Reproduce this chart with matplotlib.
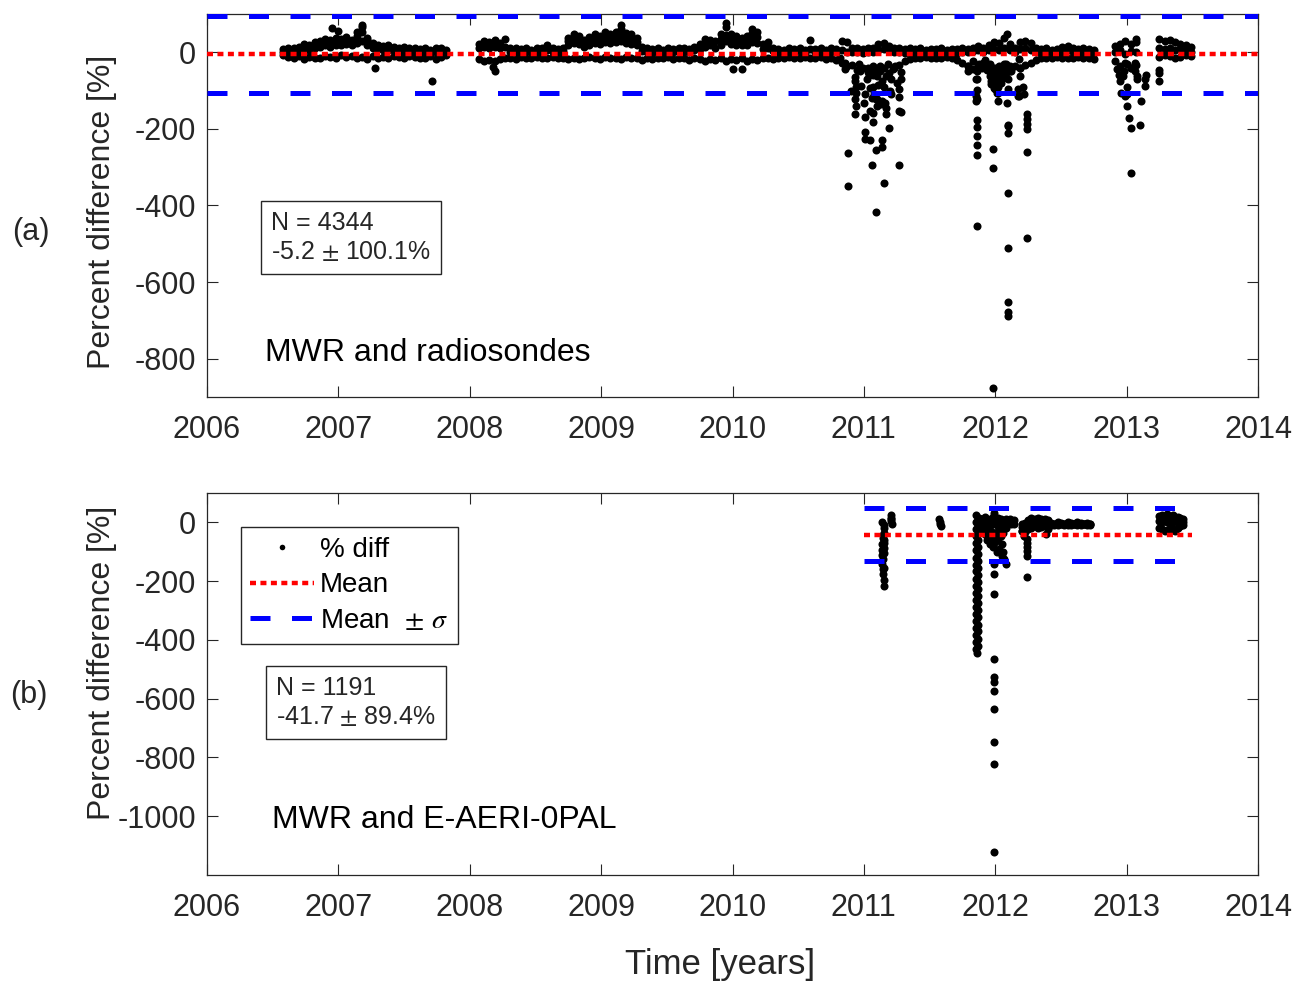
import numpy as np
import matplotlib
matplotlib.use("Agg")
import matplotlib.pyplot as plt
from matplotlib.lines import Line2D

plt.rcParams["font.family"] = ["Liberation Sans", "DejaVu Sans"]
plt.rcParams["mathtext.fontset"] = "stix"
plt.rcParams["axes.unicode_minus"] = False

TEXT = "#262626"

# ---------------------------------------------------------------- panel (a)
# MWR vs radiosondes: summary statistics
A_N = 4344
A_MEAN = -5.2
A_STD = 100.1

# dense band near zero, sampled every STEP years (upper / middle / lower rows)
STEP = 0.04
A_SEG1_T0 = 2006.58
A_SEG1_HI = [8, 12, 10, 14, 22, 18, 27, 30, 34, 32, 37, 34, 40, 32, 52, 72,
             37, 24, 20, 17, 19, 14, 12, 14, 10, 12, 8, 10, 7, 12, 10, 6]
A_SEG1_MID = [0, 3, -2, 5, 8, 6, 12, 15, 18, 15, 20, 18, 22, 18, 25, 30,
              20, 12, 8, 5, 6, 3, 2, 4, 0, 2, -2, 3, 0, 2, 1, -3]
A_SEG1_LO = [-7, -12, -14, -10, -17, -12, -14, -16, -10, -12, -14, -7, -12, -10, -14, -12,
             -17, -10, -14, -12, -16, -10, -12, -14, -10, -12, -16, -14, -10, -18, -12, -7]

A_SEG2_T0 = 2008.07
A_SEG2_HI = [22, 30, 27, 32, 24, 34, 12, 10, 8, 10, 7, 10, 12, 18, 10, 8, 12,
             37, 47, 42, 32, 40, 47, 42, 52, 47, 54, 72, 50, 47, 37,
             14, 10, 8, 10, 7, 12, 8, 10, 12, 9, 14, 22, 34, 32, 30, 47, 77,
             47, 42, 37, 42, 60, 54, 22, 27, 12, 8, 7, 10, 8, 10, 7, 32,
             8, 10, 7, 10, 8, 30, 27, 12, 10, 8, 12, 10, 22, 24, 17, 12, 10, 8, 10,
             8, 10, 7, 9, 8, 10, 7, 9, 8, 10, 8, 12, 16, 10,
             20, 27, 24, 37, 22, 12, 27, 30, 24,
             10, 8, 10, 7, 9, 14, 17, 10, 8, 10, 8, 7]
A_SEG2_MID = [10, 15, 12, 15, 10, 15, 2, 0, -2, 3, 0, 2, 4, 5, 0, -2, 3,
              20, 25, 22, 15, 20, 25, 22, 28, 25, 28, 30, 25, 22, 18,
              4, 0, -2, 2, -3, 3, 0, 2, 4, 0, 5, 8, 15, 18, 12, 20, 30,
              22, 20, 18, 20, 28, 25, 8, 10, 3, 0, -2, 2, 0, 3, -2, 8,
              0, 2, -2, 3, 0, 5, 2, 0, 0, -3, 2, 0, 5, 8, 3, 0, 2, -2, 0,
              -2, 0, -3, 2, 0, -2, 0, 0, -2, 2, 0, 3, 5, 0,
              5, 8, 6, 10, 5, 2, 8, 10, 6,
              0, -2, 2, -3, 0, 3, 5, 0, -2, 2, 0, -3]
A_SEG2_LO = [-17, -22, -20, -24, -18, -16, -14, -17, -12, -16, -14, -12, -16, -14, -12, -16, -14,
             -17, -14, -18, -16, -12, -14, -18, -12, -16, -14, -17, -12, -16, -14,
             -20, -16, -18, -14, -16, -12, -18, -14, -16, -20, -14, -17, -22, -18, -20, -16, -22,
             -18, -20, -16, -22, -18, -20, -16, -14, -18, -14, -16, -12, -14, -16, -12, -14,
             -16, -12, -18, -14, -20, -27, -37, -32, -47, -42, -52, -37, -50, -42, -54, -40, -32, -22, -18,
             -14, -16, -12, -14, -16, -14, -12, -16, -20, -27, -37, -22, -32, -27,
             -42, -47, -52, -44, -50, -37, -42, -32, -27,
             -20, -16, -14, -16, -12, -14, -16, -14, -12, -16, -14, -17]

A_SEG3_T0 = 2012.91
A_SEG3_HI = [17, 22, 29, 22, 27]
A_SEG3_MID = [0, 5, -5, 3, 0]
A_SEG3_LO = [-22, -37, -27, -42, -32]

A_SEG4_T0 = 2013.25
A_SEG4_HI = [34, 30, 32, 27, 22, 20, 14]
A_SEG4_MID = [10, 8, 12, 5, 8, 3, 2]
A_SEG4_LO = [-12, -7, -10, -14, -12, -7, -10]

# individual points (humps above the band and the negative outliers)
A_PTS_T = [2006.82, 2006.86, 2006.90, 2006.94, 2006.98, 2007.02, 2007.06, 2007.10,
           2007.14, 2007.18, 2007.18, 2007.22, 2006.95, 2007.00, 2007.28, 2007.71,
           2008.11, 2008.15, 2008.19, 2008.18, 2008.19,
           2008.75, 2008.79, 2008.83, 2008.87, 2008.91, 2008.95, 2008.99, 2009.03, 2009.07,
           2009.11, 2009.15, 2009.15, 2009.19, 2009.23, 2009.27,
           2009.79, 2009.83, 2009.91, 2009.95, 2009.95, 2009.99, 2010.03, 2010.07, 2010.11,
           2010.15, 2010.15, 2010.19, 2010.00, 2010.07,
           # 2011 event
           2010.82, 2010.86, 2010.86, 2010.88, 2010.88, 2010.90, 2010.93, 2010.93, 2010.94, 2010.94,
           2010.93, 2010.94, 2010.93, 2010.97, 2010.98, 2011.00, 2011.01, 2011.01, 2011.01, 2011.01,
           2011.02, 2011.05, 2011.05, 2011.06, 2011.07, 2011.07, 2011.07, 2011.05, 2011.07, 2011.07,
           2011.08, 2011.09, 2011.09, 2011.09, 2011.10, 2011.10, 2011.10, 2011.12, 2011.13, 2011.14,
           2011.14, 2011.14, 2011.14, 2011.15, 2011.16, 2011.17, 2011.17, 2011.17, 2011.19, 2011.21,
           2011.21, 2011.22, 2011.25, 2011.27, 2011.27, 2011.27, 2011.27, 2011.28, 2011.28, 2011.28,
           2011.03, 2011.12, 2011.18, 2011.24, 2010.96, 2011.04, 2011.15, 2011.20, 2011.11, 2011.06,
           # 2012 event
           2011.79, 2011.79, 2011.83, 2011.86, 2011.85, 2011.86, 2011.86, 2011.86, 2011.86, 2011.86,
           2011.86, 2011.86, 2011.86, 2011.86, 2011.85, 2011.85, 2011.88, 2011.95, 2011.96, 2011.97,
           2011.98, 2011.98, 2011.98, 2011.99, 2011.98, 2012.00, 2012.01, 2012.01, 2012.02, 2012.02,
           2012.04, 2012.06, 2012.09, 2012.08, 2012.10, 2012.10, 2012.09, 2012.10, 2012.10, 2012.10,
           2012.10, 2012.10, 2012.10, 2012.10, 2012.10, 2012.11, 2012.12, 2012.17, 2012.17, 2012.18,
           2012.19, 2012.19, 2012.18, 2012.21, 2012.22, 2012.24, 2012.24, 2012.24, 2012.24, 2012.24,
           2012.24, 2011.92, 2011.94, 2011.96, 2012.00, 2012.02, 2012.03, 2012.05, 2012.08, 2011.97,
           2012.03, 2011.90, 2011.97, 2011.99, 2012.00, 2012.01, 2012.02, 2012.03, 2012.04, 2012.05,
           2011.99, 2011.98, 2012.06, 2012.07, 2012.01, 2011.96,
           # 2013 event
           2012.93, 2012.95, 2012.94, 2012.97, 2012.96, 2012.99, 2013.00, 2013.00, 2013.00, 2013.02,
           2013.03, 2013.03, 2013.06, 2013.07, 2013.06, 2013.08, 2013.08, 2013.10, 2013.11, 2013.14,
           2013.14, 2013.15, 2013.25, 2013.25, 2013.25, 2013.00, 2013.03, 2012.98]
A_PTS_V = [24, 27, 30, 28, 33, 30, 35, 30,
           42, 52, 66, 32, 63, 56, -42, -75,
           24, 21, 24, -38, -50,
           30, 35, 33, 26, 30, 35, 33, 40, 35,
           40, 45, 62, 38, 35, 28,
           26, 26, 34, 45, 65, 36, 30, 28, 30,
           40, 50, 40, -43, -43,
           -14, -27, -43, -264, -349, -102, -64, -75, -90, -105,
           -123, -141, -162, -49, -88, -132, -108, -168, -207, -227,
           -71, -229, -153, -294, -43, -58, -90, -92, -158, -182,
           -110, -121, -256, -417, -62, -123, -140, -36, -136, -127,
           -75, -229, -248, -341, -132, -62, -145, -162, -197, -110,
           -71, -44, -79, -95, -118, -153, -294, -70, -51, -156,
           -40, -50, -30, -35, -30, -60, -90, -100, -85, -120,
           -49, -36, -44, -49, -70, -98, -121, -177, -194, -219,
           -241, -267, -454, -71, -114, -127, -31, -36, -62, -84,
           -253, -302, -877, -92, -49, -71, -90, -105, -127, -105,
           -79, -66, 47, -53, -97, -71, -132, -193, -210, -368,
           -511, -653, -679, -688, -191, -36, -49, -114, -97, -18,
           -40, -62, -114, -90, -108, -160, -175, -188, -201, -261,
           -485, -20, -45, -30, -40, -55, -35, -45, -30, -60,
           -70, -40, -75, -80, -95, -85, -90, -80, -60, -55,
           -65, -40, -40, -30, -55, -50,
           -43, -75, -58, -62, -105, -114, -140, -90, -110, -171,
           -197, -315, -49, 34, -27, -62, -71, -191, -127, -71,
           -88, -60, -47, -53, -75, -30, -40, -50]

# ---------------------------------------------------------------- panel (b)
# MWR vs E-AERI-0PAL: summary statistics
B_N = 1191
B_MEAN = -41.7
B_STD = 89.4
B_LINE_SPAN = [2011.0, 2013.5]

B_SEG1_T0 = 2012.20
B_STEP = 0.025
B_SEG1_HI = [-7, -2, 8, 15, 13, 16, 10, 13, 8, -2, -4, 0, -2, -4, 0, -2, -4, 0, -2, -4, -2, -6]
B_SEG1_MID = [-15, -12, -5, 0, 5, 2, 0, 4, -2, -5, -5, -3, -6, -4, -3, -5, -6, -3, -4, -6, -5, -4]
B_SEG1_LO = [-28, -33, -23, -18, -13, -18, -16, -13, -23, -8, -8, -10, -6, -8, -10, -8,
             -6, -10, -8, -6, -10, -8]

B_SEG2_T0 = 2013.25
B_STEP2 = 0.02
B_SEG2_HI = [23, 26, 18, 28, 23, 26, 20, 18, 16, 13]
B_SEG2_MID = [5, 0, 8, 2, 5, 0, 6, 3, 0, 2]
B_SEG2_LO = [-18, -23, -28, -26, -18, -23, -28, -18, -13, -8]

B_PTS_T = [2011.14, 2011.15, 2011.15, 2011.145, 2011.15, 2011.14, 2011.15, 2011.15, 2011.14, 2011.145,
           2011.14, 2011.145, 2011.145, 2011.15, 2011.155, 2011.15, 2011.14, 2011.15, 2011.145, 2011.15,
           2011.205, 2011.21, 2011.21, 2011.215, 2011.205,
           2011.575, 2011.58, 2011.58, 2011.585,
           # vertical streak at the end of 2011
           2011.855, 2011.870, 2011.855, 2011.870, 2011.855, 2011.870, 2011.855, 2011.870, 2011.855, 2011.870,
           2011.855, 2011.870, 2011.855, 2011.870, 2011.855, 2011.870, 2011.855, 2011.870, 2011.855, 2011.870,
           2011.855, 2011.870, 2011.855, 2011.870, 2011.855, 2011.870, 2011.855, 2011.870, 2011.855, 2011.870,
           2011.855, 2011.870, 2011.855, 2011.870, 2011.855, 2011.870, 2011.855, 2011.870, 2011.855, 2011.860,
           # spread just after it
           2011.88, 2011.90, 2011.92, 2011.94, 2011.96, 2011.98, 2012.00, 2012.02, 2012.04, 2012.06,
           2012.08, 2012.10, 2012.12, 2012.14,
           2011.90, 2011.92, 2011.94, 2011.96, 2011.98, 2012.00, 2012.02, 2012.04, 2012.06, 2012.08,
           2012.10, 2012.12,
           2011.89, 2011.91, 2011.93, 2011.95, 2011.97, 2012.00, 2012.02, 2012.04, 2012.06, 2012.08,
           2011.94, 2011.96, 2011.98, 2012.00, 2012.02, 2012.04, 2012.05, 2012.03, 2012.01, 2012.05,
           2012.07, 2012.08, 2012.06, 2011.99,
           2011.99, 2011.99, 2011.99, 2011.99, 2011.99, 2011.99, 2011.99, 2011.99, 2011.99, 2011.99,
           2011.99, 2011.99,
           2012.11, 2012.13, 2012.12, 2012.14,
           2012.24, 2012.24, 2012.245, 2012.24, 2012.24, 2012.245, 2012.39, 2012.20, 2012.22]
B_PTS_V = [2, -18, -35, -52, -69, -72, -86, -103, -112, -126,
           -143, -160, -177, -217, -195, -155, -95, -60, -44, -10,
           25, 15, 5, -5, 10,
           10, 2, -6, -14,
           25, 12, 2, -10, -24, -35, -47, -60, -71, -84,
           -95, -108, -120, -131, -144, -156, -167, -180, -192, -203,
           -215, -228, -240, -251, -263, -276, -288, -299, -312, -323,
           -336, -348, -360, -371, -384, -396, -407, -420, -432, -444,
           15, 10, 17, 5, 13, 18, 7, 15, 10, 3,
           13, 7, 0, 9,
           -5, -10, -20, -8, 0, -5, -12, -3, -10, 2,
           0, -5,
           -25, -35, -42, -50, -30, -40, -30, -22, -35, -20,
           -60, -72, -85, -68, -55, -48, -75, -90, -100, -115,
           -126, -143, -100, -60,
           33, -143, -177, -245, -465, -526, -544, -575, -634, -748,
           -821, -1122,
           12, 6, 0, -7,
           -55, -69, -85, -98, -115, -186, -41, -30, -45]

XLIM = [2006, 2014]
XTICKS = list(range(2006, 2015))


def band(t0, step, *rows):
    t = t0 + step * np.arange(len(rows[0]))
    ts = np.concatenate([t for _ in rows])
    vs = np.concatenate([np.asarray(r, float) for r in rows])
    return ts, vs


def style_axes(ax, ylim, yticks):
    ax.set_xlim(XLIM)
    ax.set_ylim(ylim)
    ax.set_xticks(XTICKS)
    ax.set_yticks(yticks)
    ax.tick_params(direction="in", top=True, right=True, length=8, width=0.8,
                   labelsize=22, colors=TEXT)
    ax.tick_params(axis="x", pad=13)
    ax.tick_params(axis="y", pad=8)
    for sp in ax.spines.values():
        sp.set_color(TEXT)
        sp.set_linewidth(0.9)
    ax.set_ylabel("Percent difference [%]", fontsize=23, color=TEXT)


def draw_stats(ax, xspan, mean, std):
    ax.plot(xspan, [mean + std] * 2, color="#0000ff", lw=3.6, dashes=(4.0, 4.3), zorder=4)
    ax.plot(xspan, [mean - std] * 2, color="#0000ff", lw=3.6, dashes=(4.0, 4.3), zorder=4)
    ax.plot(xspan, [mean] * 2, color="#ff0000", lw=3.2, dashes=(1.35, 1.0), zorder=5)


fig = plt.figure(figsize=(12.98, 9.82), dpi=100)
ax1 = fig.add_axes([207 / 1298, 1 - 397 / 982, 1051 / 1298, 383 / 982])
ax2 = fig.add_axes([207 / 1298, 1 - 875 / 982, 1051 / 1298, 382 / 982])

# panel (a)
parts = [band(A_SEG1_T0, STEP, A_SEG1_HI, A_SEG1_MID, A_SEG1_LO),
         band(A_SEG2_T0, STEP, A_SEG2_HI, A_SEG2_MID, A_SEG2_LO),
         band(A_SEG3_T0, STEP, A_SEG3_HI, A_SEG3_MID, A_SEG3_LO),
         band(A_SEG4_T0, STEP, A_SEG4_HI, A_SEG4_MID, A_SEG4_LO),
         (np.array(A_PTS_T), np.array(A_PTS_V, float))]
ta = np.concatenate([p[0] for p in parts])
va = np.concatenate([p[1] for p in parts])
ax1.plot(ta, va, "o", color="k", ms=5.8, mew=0, zorder=3)
draw_stats(ax1, XLIM, A_MEAN, A_STD)
style_axes(ax1, (-900, 100), [-800, -600, -400, -200, 0])
ax1.yaxis.set_label_coords(-0.086, 0.483)
ax1.text(0.0609, 0.485, f"N = {A_N}\n{A_MEAN} $\\pm$ {A_STD}%", transform=ax1.transAxes,
         fontsize=18, color=TEXT, ha="left", va="top", linespacing=1.25,
         bbox=dict(boxstyle="square,pad=0.4", fc="white", ec=TEXT, lw=1.0))
ax1.text(0.0552, 0.115, "MWR and radiosondes", transform=ax1.transAxes,
         fontsize=23, color="k", ha="left", va="center")

# panel (b)
parts = [band(B_SEG1_T0, B_STEP, B_SEG1_HI, B_SEG1_MID, B_SEG1_LO),
         band(B_SEG2_T0, B_STEP2, B_SEG2_HI, B_SEG2_MID, B_SEG2_LO),
         (np.array(B_PTS_T), np.array(B_PTS_V, float))]
tb = np.concatenate([p[0] for p in parts])
vb = np.concatenate([p[1] for p in parts])
ax2.plot(tb, vb, "o", color="k", ms=5.8, mew=0, zorder=3)
draw_stats(ax2, B_LINE_SPAN, B_MEAN, B_STD)
style_axes(ax2, (-1200, 100), [-1000, -800, -600, -400, -200, 0])
ax2.yaxis.set_label_coords(-0.086, 0.555)
ax2.set_xlabel("Time [years]", fontsize=25, color=TEXT)
ax2.xaxis.set_label_coords(0.488, -0.19)
ax2.text(0.0657, 0.52, f"N = {B_N}\n{B_MEAN} $\\pm$ {B_STD}%", transform=ax2.transAxes,
         fontsize=18, color=TEXT, ha="left", va="top", linespacing=1.25,
         bbox=dict(boxstyle="square,pad=0.4", fc="white", ec=TEXT, lw=1.0))
ax2.text(0.0618, 0.144, "MWR and E-AERI-0PAL", transform=ax2.transAxes,
         fontsize=23, color="k", ha="left", va="center")

handles = [Line2D([], [], ls="none", marker="o", color="k", ms=4, mew=0),
           Line2D([], [], color="#ff0000", lw=3.2, dashes=(1.35, 1.0)),
           Line2D([], [], color="#0000ff", lw=3.6, dashes=(4.0, 4.3))]
leg = ax2.legend(handles, ["% diff", "Mean", r"Mean  $\pm$ $\sigma$"],
                 loc="upper left", bbox_to_anchor=(0.032, 0.911), borderaxespad=0,
                 fontsize=20, handlelength=2.3, handletextpad=0.2, labelspacing=0.35,
                 borderpad=0.35, fancybox=False, framealpha=1, edgecolor=TEXT)
leg.get_frame().set_linewidth(1.0)

fig.text(0.024, 1 - 232 / 982, "(a)", fontsize=22, color=TEXT, ha="center", va="center")
fig.text(0.022, 1 - 695 / 982, "(b)", fontsize=22, color=TEXT, ha="center", va="center")

fig.savefig("out.png", dpi=100)
